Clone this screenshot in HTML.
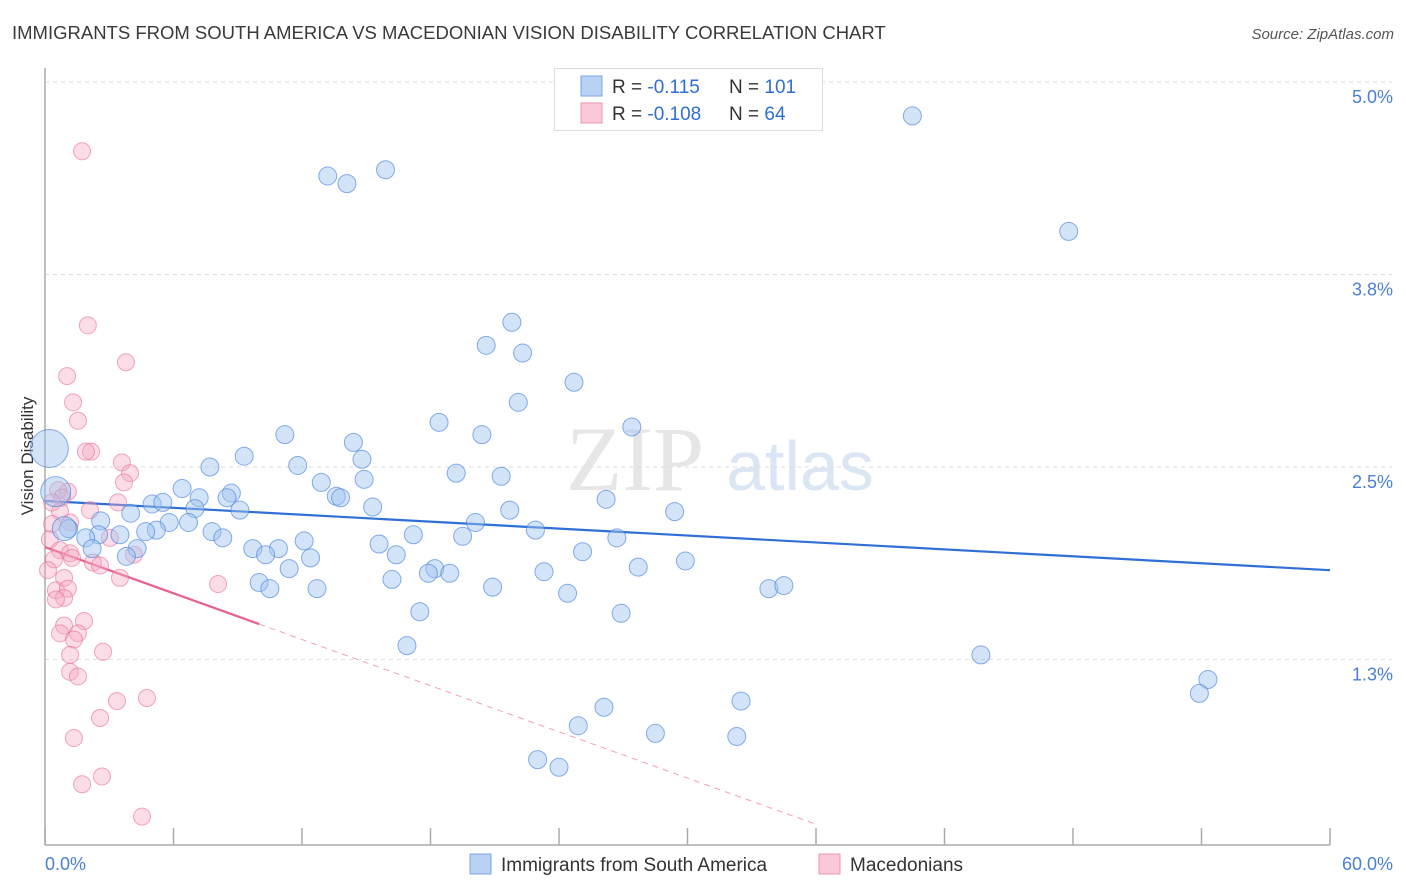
<!DOCTYPE html>
<html><head><meta charset="utf-8">
<style>
body{margin:0;background:#fff;font-family:"Liberation Sans",Arial,sans-serif;}
#wrap{position:relative;width:1406px;height:892px;overflow:hidden}
</style></head>
<body>
<div id="wrap">
<svg id="chart" width="1406" height="892" xmlns="http://www.w3.org/2000/svg">
<text x="12" y="39" font-size="18.5" fill="#3a3a3a">IMMIGRANTS FROM SOUTH AMERICA VS MACEDONIAN VISION DISABILITY CORRELATION CHART</text>
<text x="1394" y="39" font-size="15" fill="#555" font-style="italic" text-anchor="end">Source: ZipAtlas.com</text>
<text x="33" y="456" font-size="17" fill="#333" text-anchor="middle" transform="rotate(-90 33 456)">Vision Disability</text>
<g><text x="635" y="490" font-size="92" fill="#e6e6e6" font-family="Liberation Serif,serif" text-anchor="middle">ZIP</text><text x="800" y="490" font-size="70" fill="#dbe6f4" text-anchor="middle">atlas</text></g>
<g id="grid"></g><g id="axes"></g><g id="trends"></g><g id="pts"></g>
<g>
<rect x="554.5" y="68.5" width="268" height="62" fill="#fff" stroke="#ddd"/>
<rect x="581" y="76" width="21" height="20" fill="#b8d2f4" stroke="#7aa6e6"/>
<rect x="581" y="103" width="21" height="20" fill="#fac8d8" stroke="#ee94b2"/>
<text x="612" y="93" font-size="19" fill="#333">R = <tspan fill="#2f6fd0"> -0.115</tspan><tspan x="729">N = </tspan><tspan fill="#2f6fd0">101</tspan></text>
<text x="612" y="120" font-size="19" fill="#333">R = <tspan fill="#2f6fd0">-0.108</tspan><tspan x="729">N = </tspan><tspan fill="#2f6fd0"> 64</tspan></text>
</g>
<g>
<rect x="470" y="854" width="21" height="20" fill="#b8d2f4" stroke="#7aa6e6"/>
<text x="501" y="871" font-size="19" fill="#333">Immigrants from South America</text>
<rect x="819" y="854" width="21" height="20" fill="#fac8d8" stroke="#ee94b2"/>
<text x="850" y="871" font-size="19" fill="#333">Macedonians</text>
</g>
</svg>
</div>
<script>
const yTicks=[5.0,3.75,2.5,1.25];
const yTickLabels=["5.0%","3.8%","2.5%","1.3%"];
const xTickLabels=["0.0%","60.0%"];
const blueX=[40.5,47.8,13.2,14.1,15.9,21.8,20.6,22.3,24.7,22.1,18.4,27.4,20.4,11.2,14.4,9.3,14.8,7.7,11.8,19.2,21.3,12.9,14.9,6.4,13.6,13.8,8.7,8.5,7.2,26.2,5.0,5.5,7.0,9.1,15.3,21.7,29.4,4.0,2.6,5.8,6.7,20.1,22.9,5.2,3.5,7.8,4.7,19.5,17.2,26.7,8.3,2.5,1.9,1.1,15.6,12.1,9.7,10.9,4.3,2.2,25.1,16.4,10.3,3.8,12.4,29.9,11.4,23.3,27.7,18.2,17.9,18.9,16.2,10.0,20.9,10.5,12.7,24.4,33.8,34.5,17.5,26.9,16.9,43.7,54.3,53.9,32.5,26.1,24.9,28.5,32.3,23.0,24.0,0.2,0.5,0.9];
const blueY=[4.78,4.03,4.39,4.34,4.43,3.44,3.29,3.24,3.05,2.92,2.79,2.76,2.71,2.71,2.66,2.57,2.55,2.50,2.51,2.46,2.44,2.40,2.42,2.36,2.31,2.30,2.33,2.30,2.30,2.29,2.26,2.27,2.23,2.22,2.24,2.22,2.21,2.20,2.15,2.14,2.14,2.14,2.09,2.09,2.06,2.08,2.08,2.05,2.06,2.04,2.04,2.06,2.04,2.10,2.00,2.02,1.97,1.97,1.97,1.97,1.95,1.93,1.93,1.92,1.91,1.89,1.84,1.82,1.85,1.84,1.81,1.81,1.77,1.75,1.72,1.71,1.71,1.68,1.71,1.73,1.56,1.55,1.34,1.28,1.12,1.03,0.98,0.94,0.82,0.77,0.75,0.60,0.55,2.62,2.34,2.10];
const blueR=[];for(let i=0;i<blueX.length;i++)blueR.push(9);blueR[blueR.length-3]=19;blueR[blueR.length-2]=15;blueR[blueR.length-1]=12;
const pinkX=[1.73,2.0,3.78,1.03,1.31,1.54,2.15,1.91,3.59,3.97,3.69,1.07,0.61,0.79,0.33,0.70,2.10,3.41,1.17,0.33,0.23,0.70,1.17,0.42,1.26,0.14,0.89,0.51,1.07,0.89,0.51,3.03,2.24,2.57,4.15,3.50,8.08,1.82,0.89,1.54,0.70,1.35,2.71,1.17,1.17,1.54,3.36,4.76,2.57,1.35,2.66,1.73,4.53];
const pinkY=[4.55,3.42,3.18,3.09,2.92,2.80,2.60,2.60,2.53,2.46,2.40,2.34,2.35,2.30,2.27,2.21,2.22,2.27,2.14,2.13,2.03,1.96,1.94,1.90,1.91,1.83,1.78,1.70,1.71,1.65,1.64,2.04,1.88,1.86,1.93,1.78,1.74,1.50,1.47,1.42,1.42,1.38,1.30,1.28,1.17,1.14,0.98,1.00,0.87,0.74,0.49,0.44,0.23];
const blueTrend=[2.28,1.83];      // y at x=0 and x=60
const pinkTrend=[1.98,-0.05];     // intercept, slope per %
const pinkSolidEnd=10, pinkDashEnd=36;

const X0=45,X1=1330,XMAX=60,Y5=82,PXPER=154;
const sx=v=>X0+v*(X1-X0)/XMAX;
const sy=v=>Y5+(5-v)*PXPER;
const NS="http://www.w3.org/2000/svg";
function mk(tag,attrs,parent){const e=document.createElementNS(NS,tag);for(const k in attrs)e.setAttribute(k,attrs[k]);parent.appendChild(e);return e;}
const grid=document.getElementById('grid'),axes=document.getElementById('axes'),trends=document.getElementById('trends'),pts=document.getElementById('pts');
yTicks.forEach((t,i)=>{
 const l=mk('line',{x1:X0,x2:1392,y1:sy(t),y2:sy(t),stroke:'#ddd','stroke-dasharray':'4,4'},grid);
 
 
 const tx=mk('text',{x:1393,y:sy(t)+21,'font-size':18,fill:'#4a7fd4','text-anchor':'end'},axes);
 tx.textContent=yTickLabels[i];
 
 
});
const ya=mk('line',{x1:X0,x2:X0,y1:68,y2:845,stroke:'#aaa','stroke-width':1.5},axes);


const xa=mk('line',{x1:X0,x2:X1,y1:845,y2:845,stroke:'#aaa','stroke-width':1.5},axes);


for(let i=0;i<=10;i++){
 const tk=mk('line',{x1:sx(i*6),x2:sx(i*6),y1:828,y2:845,stroke:'#aaa','stroke-width':1.5},axes);
 
 
}
const xl0=mk('text',{x:45,y:870,'font-size':18,fill:'#4a7fd4'},axes);xl0.textContent=xTickLabels[0];


const xl1=mk('text',{x:1393,y:870,'font-size':18,fill:'#4a7fd4','text-anchor':'end'},axes);xl1.textContent=xTickLabels[1];



pinkX.forEach((x,i)=>{
 const c=mk('circle',{cx:sx(x),cy:sy(pinkY[i]),r:8.5,fill:'rgba(246,170,196,0.4)',stroke:'rgba(232,110,152,0.6)','stroke-width':1},pts);
 
 
});
blueX.forEach((x,i)=>{
 const c=mk('circle',{cx:sx(x),cy:sy(blueY[i]),r:blueR[i],fill:'rgba(160,196,240,0.45)',stroke:'rgba(70,130,220,0.65)','stroke-width':1},pts);
 
 
});
const bt=mk('line',{x1:sx(0),y1:sy(blueTrend[0]),x2:sx(60),y2:sy(blueTrend[1]),stroke:'#2f6fd6','stroke-width':2.2},trends);


const pf=v=>pinkTrend[0]+pinkTrend[1]*v;
const pt=mk('line',{x1:sx(0),y1:sy(pf(0)),x2:sx(pinkSolidEnd),y2:sy(pf(pinkSolidEnd)),stroke:'#e8608e','stroke-width':2.2},trends);


const pd=mk('line',{x1:sx(pinkSolidEnd),y1:sy(pf(pinkSolidEnd)),x2:sx(pinkDashEnd),y2:sy(pf(pinkDashEnd)),stroke:'#f0a0bc','stroke-width':1,'stroke-dasharray':'6,5'},trends);


</script>
</body></html>
